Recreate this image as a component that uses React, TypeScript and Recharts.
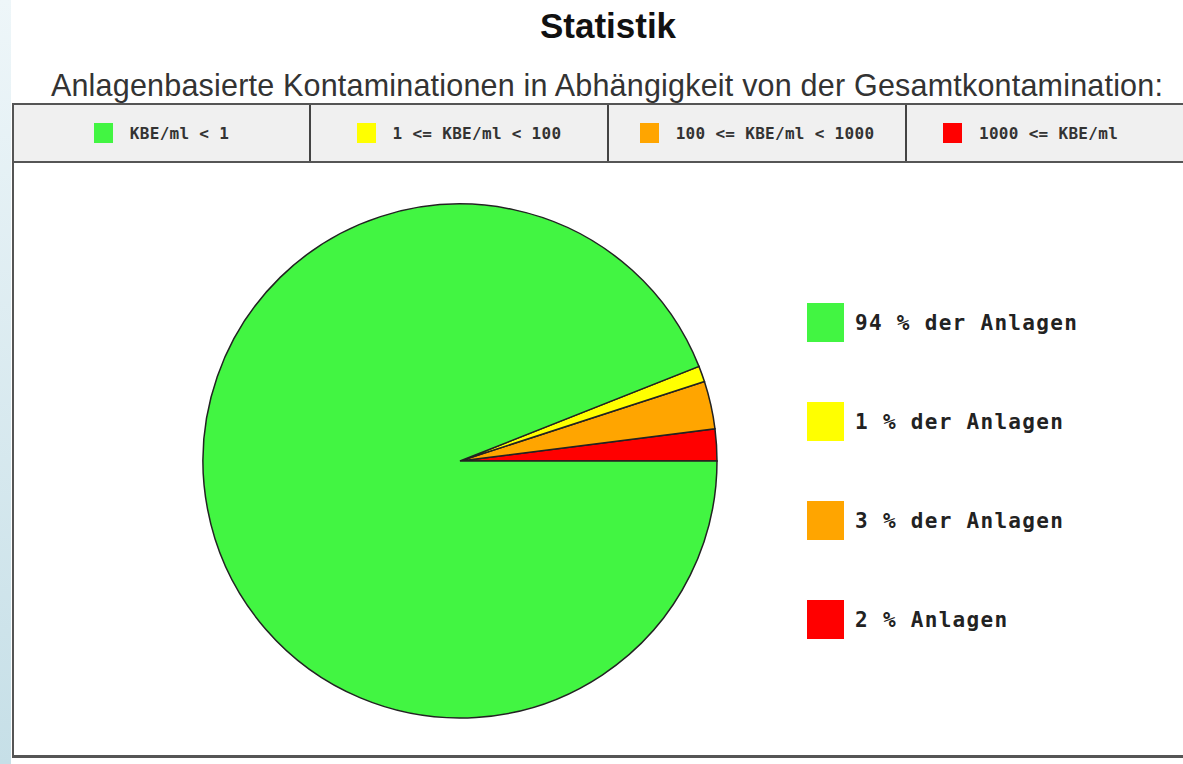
import { PieChart, Pie, Cell } from 'recharts';

// legend order (top to bottom / left to right)
const ranges = ['KBE/ml < 1', '1 <= KBE/ml < 100', '100 <= KBE/ml < 1000', '1000 <= KBE/ml'];
const shares = [94, 1, 3, 2];
const sliceLabels = ['94 % der Anlagen', '1 % der Anlagen', '3 % der Anlagen', '2 % Anlagen'];
const colors = ['#42f542', '#ffff00', '#ffa500', '#ff0000'];

const MONO = '"DejaVu Sans Mono", "Liberation Mono", monospace';
const SANS = '"Liberation Sans", Arial, sans-serif';

// pie is drawn from 3 o'clock counter-clockwise: red, orange, yellow, green
const pieData = ranges
  .map((r, i) => ({ name: sliceLabels[i], range: r, value: shares[i], color: colors[i] }))
  .reverse();

const cellWidths = [297, 298, 298, 290];

function SideLegend() {
  return (
    <div style={{ position: 'absolute', left: 807, top: 273, display: 'flex', flexDirection: 'column' }}>
      {sliceLabels.map((label, i) => (
        <div key={label} style={{ display: 'flex', alignItems: 'center', height: 99 }}>
          <span style={{ width: 37, height: 39, background: colors[i], display: 'inline-block' }} />
          <span style={{ marginLeft: 11, fontFamily: MONO, fontWeight: 'bold', fontSize: 21, letterSpacing: 1.3, color: '#222' }}>
            {label}
          </span>
        </div>
      ))}
    </div>
  );
}

export default function App() {
  return (
    <div style={{ position: 'absolute', left: 0, top: 0, width: 1183, height: 764, background: '#fff', overflow: 'hidden' }}>
      {/* light blue page edge */}
      <div style={{ position: 'absolute', left: 0, top: 0, width: 11, height: 764, background: 'linear-gradient(to bottom, #eef6f9, #c6dfe7)' }} />

      <div style={{ position: 'absolute', left: 0, top: 8, width: 1216, textAlign: 'center', fontFamily: SANS, fontWeight: 'bold', fontSize: 35, lineHeight: '35px', color: '#111' }}>
        Statistik
      </div>
      <div style={{ position: 'absolute', left: 0, top: 70, width: 1214, textAlign: 'center', fontFamily: SANS, fontSize: 30.5, lineHeight: '31px', letterSpacing: 0.2, color: '#333', whiteSpace: 'nowrap' }}>
        Anlagenbasierte Kontaminationen in Abhängigkeit von der Gesamtkontamination:
      </div>

      {/* header row */}
      <div style={{ position: 'absolute', left: 12, top: 103, width: 1200, height: 56, display: 'flex', background: '#f0f0f0', borderTop: '2px solid #555', borderBottom: '2px solid #555', borderLeft: '2px solid #555' }}>
        {ranges.map((r, i) => (
          <div key={r} style={{ width: cellWidths[i], flex: 'none', display: 'flex', alignItems: 'center', justifyContent: i === 3 ? 'flex-start' : 'center', paddingLeft: i === 3 ? 36 : 0, borderRight: i === 3 ? 'none' : '2px solid #444', boxSizing: 'border-box' }}>
            <span style={{ width: 19, height: 20, background: colors[i], display: 'inline-block' }} />
            <span style={{ marginLeft: 17, fontFamily: MONO, fontWeight: 'bold', fontSize: 16, letterSpacing: 0.3, color: '#333', whiteSpace: 'pre' }}>{r}</span>
          </div>
        ))}
      </div>

      {/* chart box */}
      <div style={{ position: 'absolute', left: 12, top: 161, width: 1200, height: 594, borderLeft: '2px solid #555', borderBottom: '3px solid #555' }} />

      <div style={{ position: 'absolute', left: 0, top: 0 }}>
        <PieChart width={1183} height={764} margin={{ top: 0, right: 0, bottom: 0, left: 0 }}>
          <Pie
            data={pieData}
            dataKey="value"
            cx={460}
            cy={461}
            outerRadius={257}
            startAngle={0}
            endAngle={360}
            stroke="#222"
            strokeWidth={1.5}
            isAnimationActive={false}
          >
            {pieData.map((d) => (
              <Cell key={d.name} fill={d.color} />
            ))}
          </Pie>
        </PieChart>
      </div>

      <SideLegend />
    </div>
  );
}
